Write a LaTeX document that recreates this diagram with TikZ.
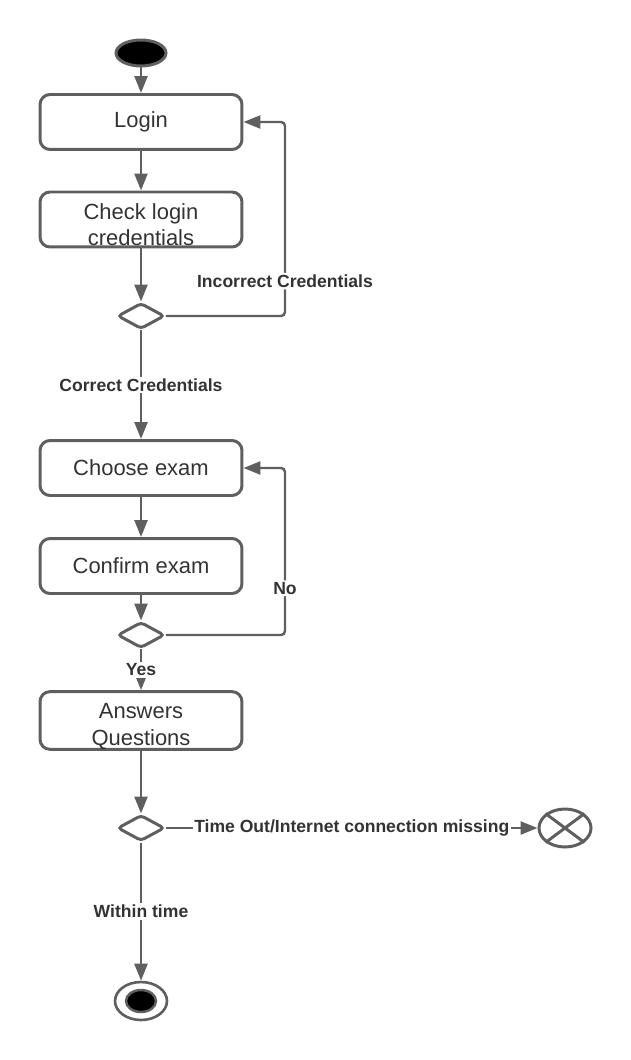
\documentclass[tikz,border=0pt]{standalone}
\usepackage{fontspec}
\setmainfont{Liberation Sans}
\usepackage{tikz}
\usetikzlibrary{shapes.geometric,arrows.meta}
\definecolor{linegray}{HTML}{5F5F5F}
\definecolor{textgray}{HTML}{333333}

\begin{document}
\begin{tikzpicture}[x=0.02cm,y=-0.02cm,
    act/.style={draw=linegray,line width=1.7pt,rounded corners=0.2cm,minimum width=4.04cm,minimum height=1.1cm,
        align=center,text=textgray,font=\fontsize{12.5}{15}\selectfont,inner sep=0pt},
    dec/.style={diamond,draw=linegray,line width=1.7pt,rounded corners=2pt,minimum width=0.94cm,minimum height=0.52cm,inner sep=0pt},
    flow/.style={draw=linegray,line width=1.4pt,-{Triangle[length=0.34cm,width=0.26cm]}},
    lab/.style={fill=white,text=textgray,font=\fontsize{10}{12}\selectfont\bfseries,inner sep=1pt}]
    \useasboundingbox (0,0) rectangle (631,1060);

    \node[ellipse,fill=black,draw=linegray,line width=1.7pt,minimum width=1.0cm,minimum height=0.52cm] (start) at (141,53) {};
    \node[act] (login) at (141,122) {Login};
    \node[act] (check) at (141,219.5) {\rule{0pt}{15pt}Check login\\credentials};
    \node[dec] (d1) at (141,316) {};
    \node[act] (choose) at (141,468) {Choose exam};
    \node[act] (confirm) at (141,566) {Confirm exam};
    \node[dec] (d2) at (141,635) {};
    \node[act] (answer) at (141,720.5) {\rule{0pt}{15.5pt}Answers\\Questions};
    \node[dec] (d3) at (141,828) {};
    \node[ellipse,draw=linegray,line width=1.7pt,minimum width=1.04cm,minimum height=0.76cm] (fin) at (565,828) {};
    \node[ellipse,draw=linegray,line width=1.5pt,minimum width=1.04cm,minimum height=0.76cm] (stop) at (141,1001) {};
    \node[ellipse,fill=black,draw=linegray,line width=1.4pt,minimum width=0.6cm,minimum height=0.44cm] (stopin) at (stop) {};
    \draw[linegray,line width=1.7pt] (fin.north east) -- (fin.south west) (fin.north west) -- (fin.south east);

    \draw[flow] (start) -- (login);
    \draw[flow] (login) -- (check);
    \draw[flow] (check) -- (d1);
    \draw[flow] (d1) -- node[lab]{Correct Credentials} (choose);
    \draw[flow,rounded corners=0.08cm] (d1.east) -- ++(119,0) |- node[lab,pos=0.09]{Incorrect Credentials} (login.east);
    \draw[flow] (choose) -- (confirm);
    \draw[flow] (confirm) -- (d2);
    \draw[flow] (d2) -- node[lab]{Yes} (answer);
    \draw[flow,rounded corners=0.08cm] (d2.east) -- ++(119,0) |- node[lab,pos=0.14]{No} (choose.east);
    \draw[flow] (answer) -- (d3);
    \draw[flow] (d3) -- node[lab]{Time Out/Internet connection missing} (fin);
    \draw[flow] (d3) -- node[lab]{Within time} (stop);

\end{tikzpicture}
\end{document}
